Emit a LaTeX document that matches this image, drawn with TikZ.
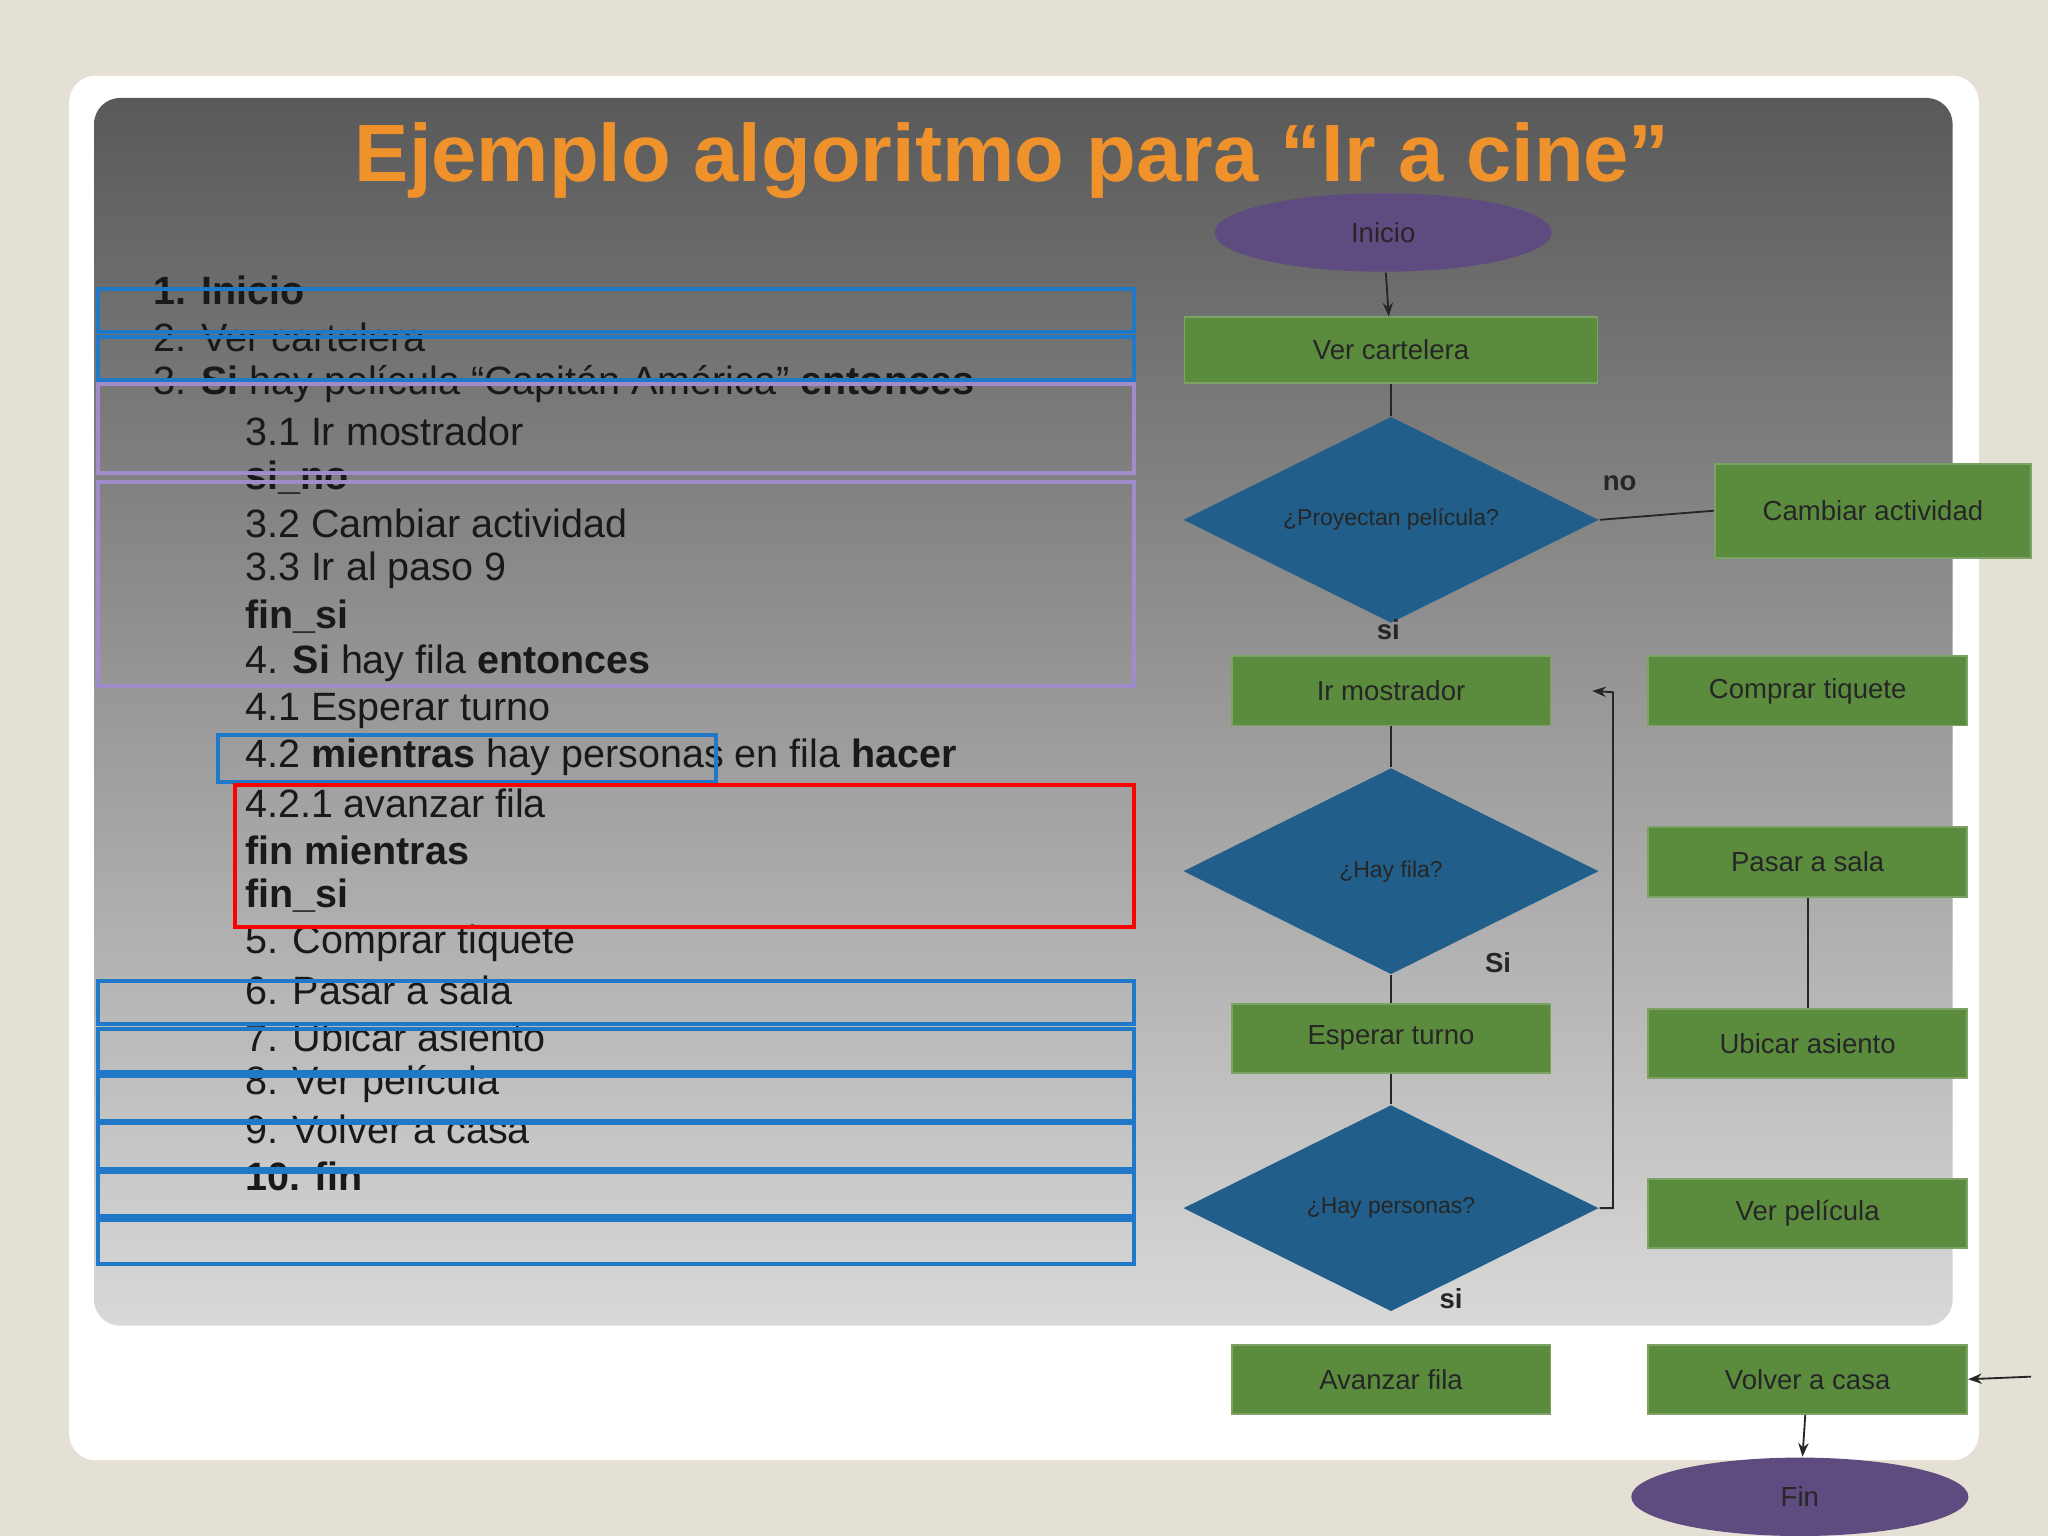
\documentclass[tikz,border=0pt]{standalone}
\usepackage{fontspec}
\setmainfont{Liberation Sans}
\usetikzlibrary{shapes.geometric,arrows.meta}
\definecolor{bgc}{HTML}{E4E0D4}
\definecolor{orng}{HTML}{F0922B}
\definecolor{bbox}{HTML}{1F78C8}
\definecolor{pbox}{HTML}{A08CC8}
\definecolor{gbox}{HTML}{5B8C3E}
\definecolor{dia}{HTML}{215E8A}
\definecolor{ell}{HTML}{5E4B80}
\begin{document}
\begin{tikzpicture}[x=0.01cm,y=-0.01cm,
  lt/.style={anchor=west,font=\fontsize{8.6pt}{9pt}\selectfont,text=black!90,inner sep=0},
  ann/.style={draw=#1,line width=0.9pt},
  gb/.style={fill=gbox,draw=gbox!80!white,minimum width=2.44cm,minimum height=0.53cm,font=\fontsize{6pt}{7pt}\selectfont,text=black!85,inner sep=0},
  dm/.style={diamond,fill=dia,minimum width=3.18cm,minimum height=1.58cm,aspect=2,inner sep=0,font=\fontsize{5pt}{6pt}\selectfont,text=black!85},
  el/.style={ellipse,fill=ell,minimum width=2.58cm,minimum height=0.6cm,font=\fontsize{6pt}{7pt}\selectfont,text=black!85,inner sep=0},
  lbl/.style={font=\bfseries\fontsize{6pt}{7pt}\selectfont,text=black!85,inner sep=0},
  con/.style={draw=black!85,line width=0.4pt},
  arr/.style={con,-{Stealth[length=3pt]}}]
\useasboundingbox (0,0) rectangle (1568,1176);
\fill[bgc] (0,0) rectangle (1568,1176);
\fill[white,rounded corners=0.2cm] (53,58) rectangle (1515,1118);
\shade[top color=black!65,bottom color=black!15,rounded corners=0.2cm] (72,75) rectangle (1495,1015);
\node[font=\bfseries\fontsize{17.7pt}{19pt}\selectfont,text=orng] (title) at (775,123) {Ejemplo algoritmo para “Ir a cine”};
% list
\node[lt] (l1) at (117,222) {\textbf{1. Inicio}};
\node[lt] (l2) at (117,258) {2. Ver cartelera};
\node[lt] (l3) at (117,294) {3. \textbf{Si} hay película “Capitán América” \textbf{entonces}};
\node[lt] (l4) at (187,330) {3.1 Ir mostrador};
\node[lt] (l5) at (187,366) {\textbf{si\_no}};
\node[lt] (l6) at (187,401) {3.2 Cambiar actividad};
\node[lt] (l7) at (187,437) {3.3 Ir al paso 9};
\node[lt] (l8) at (187,472) {\textbf{fin\_si}};
\node[lt] (l9) at (187,508) {4. \textbf{Si} hay fila \textbf{entonces}};
\node[lt] (l10) at (187,544) {4.1 Esperar turno};
\node[lt] (l11) at (187,580) {4.2 \textbf{mientras} hay personas en fila \textbf{hacer}};
\node[lt] (l12) at (187,615) {4.2.1 avanzar fila};
\node[lt] (l13) at (187,651) {\textbf{fin mientras}};
\node[lt] (l14) at (187,686) {\textbf{fin\_si}};
\node[lt] (l15) at (187,722) {5. Comprar tiquete};
\node[lt] (l16) at (187,758) {6. Pasar a sala};
\node[lt] (l17) at (187,794) {7. Ubicar asiento};
\node[lt] (l18) at (187,830) {8. Ver película};
\node[lt] (l19) at (187,865) {9. Volver a casa};
\node[lt] (l20) at (187,901) {\textbf{10. fin}};
% annotation boxes
\draw[ann=bbox] (75,221) rectangle (868,254);
\draw[ann=bbox] (75,258) rectangle (868,291);
\draw[ann=pbox] (75,294) rectangle (868,362);
\draw[ann=pbox] (75,369) rectangle (868,525);
\draw[ann=bbox] (167,563) rectangle (548,599);
\draw[ann=red] (180,601) rectangle (868,710);
\foreach \a/\b in {751/784,788/821,824/858,860/895,897/931,934/968}
  \draw[ann=bbox] (75,\a) rectangle (868,\b);
% flowchart
\node[el] (ini) at (1059,178) {Inicio};
\node[gb,minimum width=3.16cm,minimum height=0.5cm] (ver) at (1065,268) {Ver cartelera};
\node[dm] (d1) at (1065,398) {¿Proyectan película?};
\node[gb,minimum width=2.42cm,minimum height=0.72cm] (cam) at (1434,391) {Cambiar actividad};
\node[gb] (irm) at (1065,529) {Ir mostrador};
\node[dm] (d2) at (1065,667) {¿Hay fila?};
\node[gb] (esp) at (1065,795) {Esperar turno};
\node[dm] (d3) at (1065,925) {¿Hay personas?};
\node[gb] (ava) at (1065,1056) {Avanzar fila};
\node[gb] (com) at (1384,529) {Comprar tiquete};
\node[gb] (pas) at (1384,660) {Pasar a sala};
\node[gb] (ubi) at (1384,799) {Ubicar asiento};
\node[gb] (vpe) at (1384,929) {Ver película};
\node[gb] (vol) at (1384,1056) {Volver a casa};
\node[el] (fin) at (1378,1146) {Fin};
\node[lbl] (no) at (1240,370) {no};
\node[lbl] (s1) at (1063,482) {si};
\node[lbl] (s2) at (1147,737) {Si};
\node[lbl] (s3) at (1111,994) {si};
\coordinate (c1) at (1235,925);
\coordinate (c2) at (1235,530);
\coordinate (c3) at (1555,1054);
\draw[arr] (ini) -- (ver);
\draw[con] (ver) -- (d1);
\draw[con] (d1.east) -- (cam.west);
\draw[con] (irm) -- (d2);
\draw[con] (d2) -- (esp);
\draw[con] (esp) -- (d3);
\draw[arr] (d3.east) -- (c1) -- (c2) -- ([xshift=-12]com.west);
\draw[con] (pas) -- (ubi);
\draw[arr] (c3) -- (vol.east);
\draw[arr] (vol) -- (fin);
\end{tikzpicture}
\end{document}
